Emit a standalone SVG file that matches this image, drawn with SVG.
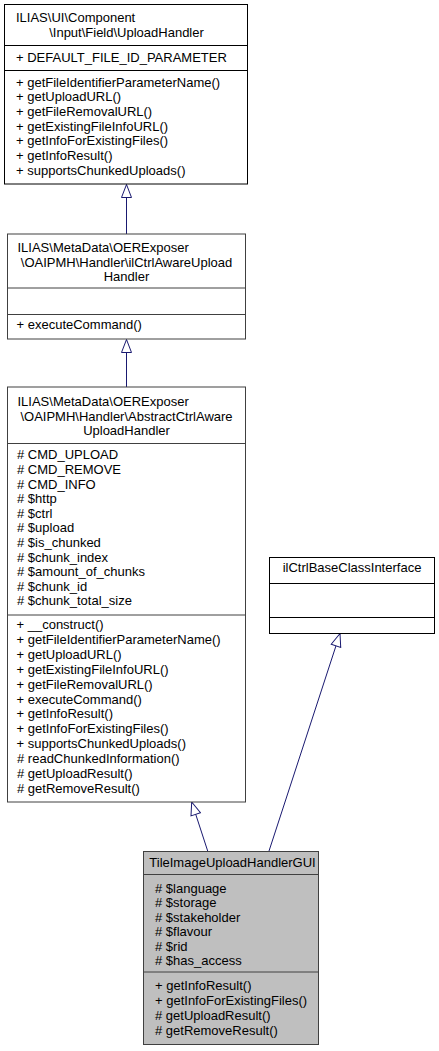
<svg xmlns="http://www.w3.org/2000/svg" width="439" height="1051" viewBox="0 0 439 1051">
<style>
text{font-family:"Liberation Sans",Arial,Helvetica,sans-serif;font-size:13px;fill:#000}
.m{text-anchor:middle}
.b{fill:#fff;stroke:#000;stroke-width:1}
.g{fill:#fff;stroke:#404040;stroke-width:1}
.r{fill:#bfbfbf;stroke:#404040;stroke-width:1}
.d{stroke:#000;stroke-width:1}
.dg{stroke:#404040;stroke-width:1}
.e{stroke:#191970;stroke-width:1;fill:none;marker-end:url(#tri)}
</style>
<defs>
<marker id="tri" markerUnits="userSpaceOnUse" viewBox="-1 -1 15 12" refX="13" refY="5" markerWidth="15" markerHeight="12" orient="auto">
<path d="M0,0 L13,5 L0,10 Z" fill="#fff" stroke="#191970" stroke-width="1"/>
</marker>
</defs>
<g id="edges">
<line class="e" x1="126.5" y1="234" x2="126.5" y2="184.5"/>
<line class="e" x1="126.5" y1="387" x2="126.5" y2="339.5"/>
<line class="e" x1="207.7" y1="851" x2="191.7" y2="802"/>
<line class="e" x1="269" y1="851" x2="340" y2="633.5"/>
</g>
<g id="uploadhandler">
<rect class="b" x="4.5" y="4.5" width="243" height="179.5"/>
<line class="d" x1="4.5" y1="45.5" x2="247.5" y2="45.5"/>
<line class="d" x1="4.5" y1="70.5" x2="247.5" y2="70.5"/>
<text x="16" y="22">ILIAS\UI\Component</text>
<text class="m" x="126.5" y="37">\Input\Field\UploadHandler</text>
<text x="16" y="62">+ DEFAULT_FILE_ID_PARAMETER</text>
<text x="16" y="86.5">+ getFileIdentifierParameterName()</text>
<text x="16" y="101.2">+ getUploadURL()</text>
<text x="16" y="115.9">+ getFileRemovalURL()</text>
<text x="16" y="130.6">+ getExistingFileInfoURL()</text>
<text x="16" y="145.3">+ getInfoForExistingFiles()</text>
<text x="16" y="160">+ getInfoResult()</text>
<text x="16" y="174.7">+ supportsChunkedUploads()</text>
</g>
<g id="ilctrlawareuploadhandler">
<rect class="g" x="7.5" y="234" width="238" height="105"/>
<line class="dg" x1="7.5" y1="288" x2="245.5" y2="288"/>
<line class="dg" x1="7.5" y1="314.5" x2="245.5" y2="314.5"/>
<text x="17.5" y="252">ILIAS\MetaData\OERExposer</text>
<text class="m" x="126.5" y="266.5">\OAIPMH\Handler\ilCtrlAwareUpload</text>
<text class="m" x="126.5" y="281">Handler</text>
<text x="16.5" y="329">+ executeCommand()</text>
</g>
<g id="abstractctrlawareuploadhandler">
<rect class="g" x="7.5" y="387" width="238" height="415"/>
<line class="dg" x1="7.5" y1="443.5" x2="245.5" y2="443.5"/>
<line class="dg" x1="7.5" y1="615" x2="245.5" y2="615"/>
<text x="17.5" y="406">ILIAS\MetaData\OERExposer</text>
<text class="m" x="126.5" y="420.5">\OAIPMH\Handler\AbstractCtrlAware</text>
<text class="m" x="126.5" y="435">UploadHandler</text>
<text x="17" y="459.3"># CMD_UPLOAD</text>
<text x="17" y="473.9"># CMD_REMOVE</text>
<text x="17" y="488.5"># CMD_INFO</text>
<text x="17" y="503.1"># $http</text>
<text x="17" y="517.7"># $ctrl</text>
<text x="17" y="532.3"># $upload</text>
<text x="17" y="546.9"># $is_chunked</text>
<text x="17" y="561.5"># $chunk_index</text>
<text x="17" y="576.1"># $amount_of_chunks</text>
<text x="17" y="590.7"># $chunk_id</text>
<text x="17" y="605.3"># $chunk_total_size</text>
<text x="16.5" y="629.3">+ __construct()</text>
<text x="16.5" y="644.15">+ getFileIdentifierParameterName()</text>
<text x="16.5" y="659">+ getUploadURL()</text>
<text x="16.5" y="673.85">+ getExistingFileInfoURL()</text>
<text x="16.5" y="688.7">+ getFileRemovalURL()</text>
<text x="16.5" y="703.55">+ executeCommand()</text>
<text x="16.5" y="718.4">+ getInfoResult()</text>
<text x="16.5" y="733.25">+ getInfoForExistingFiles()</text>
<text x="16.5" y="748.1">+ supportsChunkedUploads()</text>
<text x="17" y="762.95"># readChunkedInformation()</text>
<text x="17" y="777.8"># getUploadResult()</text>
<text x="17" y="792.65"># getRemoveResult()</text>
</g>
<g id="ilctrlbaseclassinterface">
<rect class="b" x="269.5" y="557.5" width="165" height="76"/>
<line class="d" x1="269.5" y1="583.5" x2="434.5" y2="583.5"/>
<line class="d" x1="269.5" y1="617.5" x2="434.5" y2="617.5"/>
<text class="m" x="352" y="572">ilCtrlBaseClassInterface</text>
</g>
<g id="tileimageuploadhandlergui">
<rect class="r" x="143.5" y="851.5" width="175" height="193"/>
<line class="dg" x1="143.5" y1="874.5" x2="318.5" y2="874.5"/>
<line class="dg" x1="143.5" y1="972" x2="318.5" y2="972"/>
<text class="m" x="232.5" y="866.5">TileImageUploadHandlerGUI</text>
<text x="155" y="892.7"># $language</text>
<text x="155" y="907.2"># $storage</text>
<text x="155" y="921.7"># $stakeholder</text>
<text x="155" y="936.2"># $flavour</text>
<text x="155" y="950.7"># $rid</text>
<text x="155" y="965.2"># $has_access</text>
<text x="155" y="989.5">+ getInfoResult()</text>
<text x="155" y="1004.7">+ getInfoForExistingFiles()</text>
<text x="155" y="1019.9"># getUploadResult()</text>
<text x="155" y="1035"># getRemoveResult()</text>
</g>
</svg>
